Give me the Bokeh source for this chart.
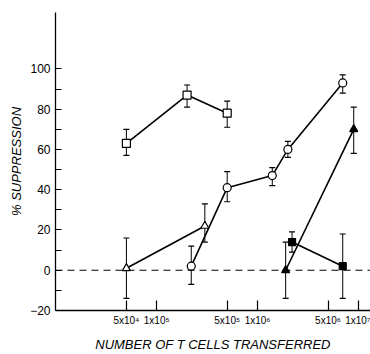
from bokeh.plotting import figure
from bokeh.models import FixedTicker, Span, Range1d, ColumnDataSource
from bokeh.embed import file_html
from bokeh.resources import INLINE

# open squares
sqo_x = [5e4, 2e5, 5e5]
sqo_y = [63, 87, 78]
sqo_lo = [57, 81, 71]
sqo_hi = [70, 92, 84]

# open circles
cir_x = [2.2e5, 5e5, 1.4e6, 2e6, 7e6]
cir_y = [2, 41, 47, 60, 93]
cir_lo = [-7, 34, 42, 56, 88]
cir_hi = [12, 49, 51, 64, 97]

# open triangles
tro_x = [5e4, 3e5]
tro_y = [1, 22]
tro_lo = [-14, 14]
tro_hi = [16, 33]

# filled triangles
trf_x = [1.9e6, 9e6]
trf_y = [0, 70]
trf_lo = [-14, 58]
trf_hi = [14, 81]

# filled squares
sqf_x = [2.2e6, 7e6]
sqf_y = [14, 2]
sqf_lo = [9, -14]
sqf_hi = [19, 18]

x_ticks = [5e4, 1e5, 5e5, 1e6, 5e6, 1e7]
x_tick_labels = ["5x10\u2074", "1x10\u2075", "5x10\u2075", "1x10\u2076", "5x10\u2076", "1x10\u2077"]
y_ticks = [-20, 0, 20, 40, 60, 80, 100]
y_minor = [-10, 10, 30, 50, 70, 90]

Y0, Y1 = -20, 128

p = figure(width=370, height=354, x_axis_type="log", output_backend="svg",
           toolbar_location=None, x_range=Range1d(9.9e3, 1.32e7), y_range=Range1d(Y0, Y1),
           min_border_left=55, min_border_right=0, min_border_top=12, min_border_bottom=0)
p.outline_line_color = None
p.xgrid.visible = False
p.ygrid.visible = False
p.background_fill_color = "white"
p.border_fill_color = "white"

p.add_layout(Span(location=0, dimension="width", line_color="black", line_width=1.2, line_dash="7 5"))

series = [
    (sqo_x, sqo_y, sqo_lo, sqo_hi, "square", "white", 8),
    (cir_x, cir_y, cir_lo, cir_hi, "circle", "white", 8),
    (tro_x, tro_y, tro_lo, tro_hi, "triangle", "white", 8),
    (trf_x, trf_y, trf_lo, trf_hi, "triangle", "black", 8),
    (sqf_x, sqf_y, sqf_lo, sqf_hi, "square", "black", 7),
]

for xs, ys, lo, hi, mk, fill, sz in series:
    src = ColumnDataSource(dict(x=xs, y=ys, lo=lo, hi=hi))
    p.segment(x0="x", y0="lo", x1="x", y1="hi", source=src, line_color="black", line_width=1)
    p.scatter(x="x", y="lo", source=src, marker="dash", size=6, line_color="black", line_width=1.2)
    p.scatter(x="x", y="hi", source=src, marker="dash", size=6, line_color="black", line_width=1.2)
    p.line(x="x", y="y", source=src, line_color="black", line_width=1.6)
    p.scatter(x="x", y="y", source=src, marker=mk, size=sz, fill_color=fill,
              line_color="black", line_width=1.2)

font = "Liberation Sans"
p.xaxis.ticker = FixedTicker(ticks=x_ticks, minor_ticks=[])
p.xaxis.major_label_overrides = {t: l for t, l in zip(x_ticks, x_tick_labels)}
p.xaxis.major_tick_in = 10
p.xaxis.major_tick_out = 0
p.xaxis.major_label_standoff = 4
p.xaxis.axis_label = "NUMBER OF T CELLS TRANSFERRED"

p.yaxis.ticker = FixedTicker(ticks=y_ticks, minor_ticks=y_minor)
p.yaxis.major_tick_in = 6
p.yaxis.major_tick_out = 0
p.yaxis.minor_tick_in = 6
p.yaxis.minor_tick_out = 0
p.yaxis.major_label_standoff = 5
p.yaxis.axis_label = "% SUPPRESSION"

for ax in (p.xaxis, p.yaxis):
    ax.axis_line_color = "black"
    ax.axis_line_width = 1.3
    ax.major_tick_line_color = "black"
    ax.minor_tick_line_color = "black"
    ax.major_tick_line_width = 1.2
    ax.minor_tick_line_width = 1.2
    ax.major_label_text_font = font
    ax.major_label_text_color = "black"
    ax.axis_label_text_font = font
    ax.axis_label_text_font_style = "italic"
    ax.axis_label_text_color = "black"
    ax.axis_label_text_font_size = "13px"

p.xaxis.axis_label_standoff = 8
p.yaxis.axis_label_standoff = 3
p.xaxis.major_label_text_font_size = "10px"
p.yaxis.major_label_text_font_size = "12px"

open("out.html", "w").write(file_html(p, INLINE))
